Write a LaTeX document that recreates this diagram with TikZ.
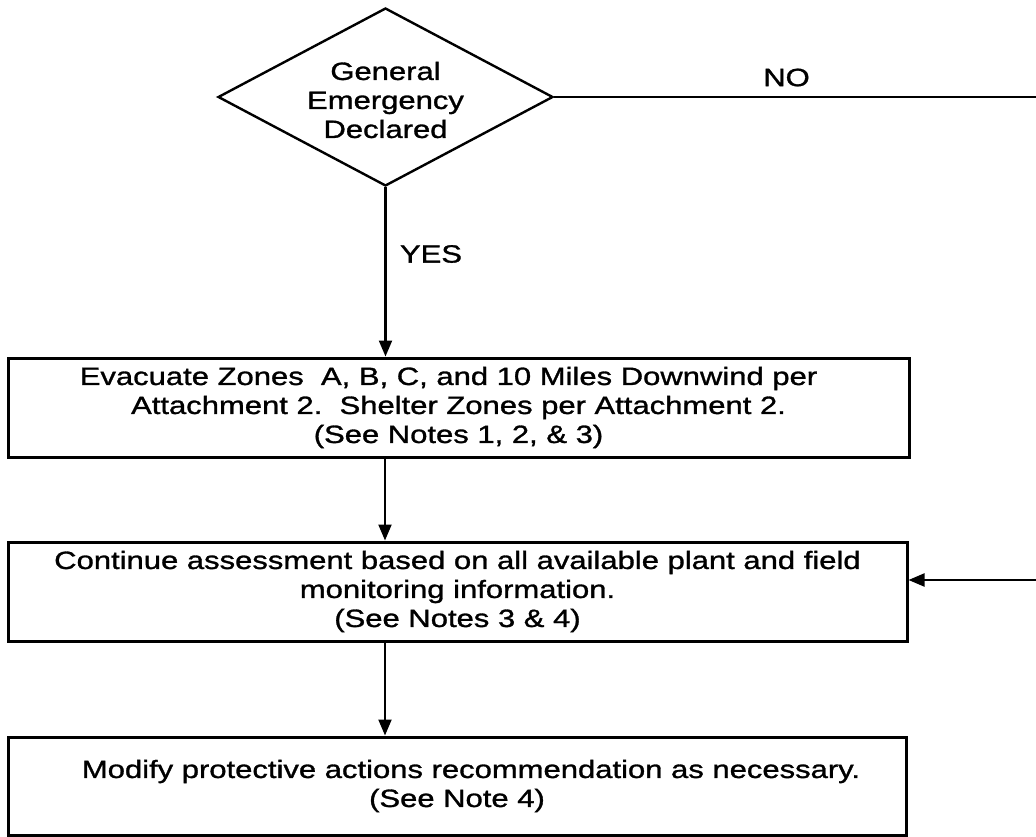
\documentclass[tikz,border=0pt]{standalone}
\usepackage{fontspec}
\setmainfont{Liberation Sans}[FakeStretch=1.24,FakeBold=1.2]
\usetikzlibrary{shapes.geometric,arrows.meta}
\begin{document}
\begin{tikzpicture}[x=1pt,y=-1pt,
  every node/.style={font=\fontsize{25}{29}\selectfont},
  box/.style={draw, line width=3pt, rectangle, inner sep=0pt, align=center},
  decision/.style={draw, diamond, line width=2.4pt, inner sep=0pt},
  conn/.style={line width=2.2pt},
  arr/.style={conn, -{Triangle[length=16pt,width=13pt]}},
  lbl/.style={inner sep=0pt}
]
\useasboundingbox (0,0) rectangle (1036,837);
% decision
\node[decision, minimum width=335pt, minimum height=178pt] (dec) at (385.5,97) {};
\node[align=center, inner sep=0pt] (dectxt) at (385.5,100) {General\\Emergency\\Declared};
% boxes
\node[box, minimum width=901pt, minimum height=99pt] (evac) at (458.5,407.5)
  {\hspace*{-20pt}Evacuate Zones\ \ A, B, C, and 10 Miles Downwind per\\Attachment 2.\ \ Shelter Zones per Attachment 2.\\(See Notes 1, 2, \& 3)};
\node[box, minimum width=899pt, minimum height=99pt] (cont) at (457.5,591.5)
  {Continue assessment based on all available plant and field\\monitoring information.\\(See Notes 3 \& 4)};
\node[box, minimum width=898pt, minimum height=98pt] (modi) at (457,786)
  {\hspace*{28pt}Modify protective actions recommendation as necessary.\\(See Note 4)};
% spine coordinates
\coordinate (sp) at (385,0);
\coordinate (ne) at (1036,97);
\coordinate (se) at (1036,580);
% connectors
\draw[arr] (dec.south) -- (dec.south |- evac.north);
\draw[arr] (evac.south -| sp) -- (cont.north -| sp);
\draw[arr] (cont.south -| sp) -- (modi.north -| sp);
\draw[conn] (dec.east) -- (ne);
\draw[arr] (se) -- (se -| cont.east);
% labels
\node[lbl] (yes) at (431,254) {YES};
\node[lbl] (no) at (786.5,77.5) {NO};
\end{tikzpicture}
\end{document}
